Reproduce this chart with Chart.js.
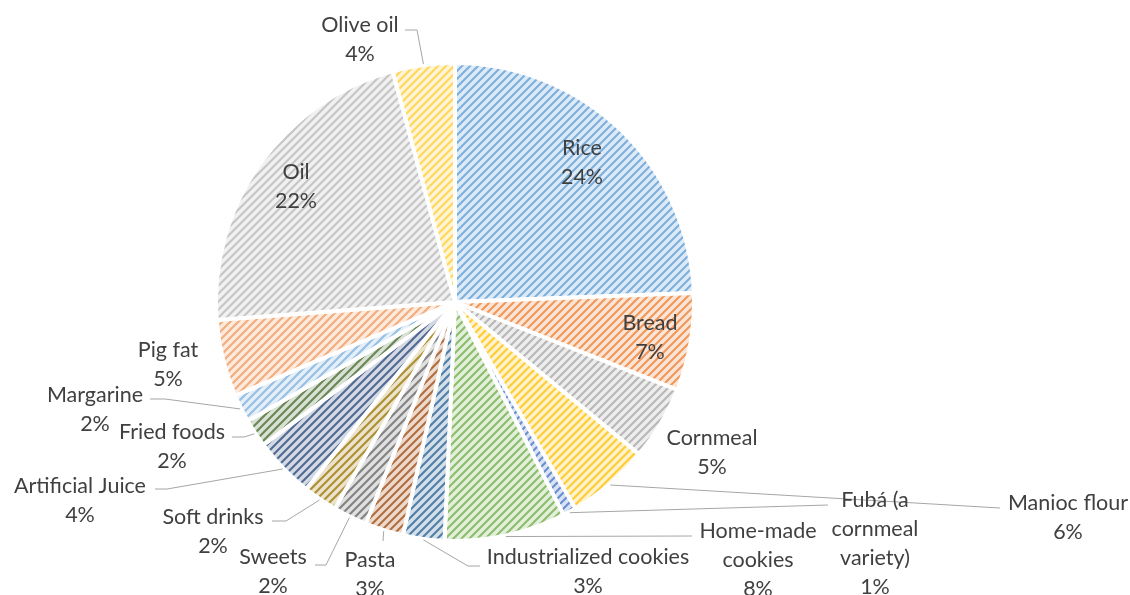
<!DOCTYPE html>
<html><head><meta charset="utf-8">
<script src="https://cdn.jsdelivr.net/npm/chart.js@4"></script>
<style>html,body{margin:0;padding:0;background:#fff}</style>
</head><body>
<canvas id="c" width="1130" height="595"></canvas>
<script>
// ---- data ----
const categories = ["Rice","Bread","Cornmeal","Manioc flour","Fubá (a cornmeal variety)","Home-made cookies","Industrialized cookies","Pasta","Sweets","Soft drinks","Artificial Juice","Fried foods","Margarine","Pig fat","Oil","Olive oil"];
const values = [24.4,6.6,5.0,5.6,0.9,8.2,2.8,2.6,2.3,2.3,4.1,1.9,1.9,5.2,22.0,4.2];
const baseColors = ["#5B9BD5","#ED7D31","#A5A5A5","#FFC000","#4472C4","#70AD47","#255E91","#9E480E","#636363","#997300","#264478","#43682B","#7CAFDD","#F1975A","#B7B7B7","#FFCD33"];

// ---- label layout (offsets from pie centre, px) ----
const labelLayout = [
  {dx:127, dy:-154},
  {dx:195, dy:21},
  {dx:257, dy:136},
  {dx:613, dy:201, leader:[[545,206]]},
  {dx:420, dy:198, wrap:110, leader:[[373,203]]},
  {dx:303, dy:229, wrap:130, leader:[[237,234]]},
  {dx:133, dy:255, leader:[[13,264],[25,264]]},
  {dx:-85, dy:258, leader:[[-72,239]]},
  {dx:-182, dy:255, leader:[[-129,263],[-140,263]]},
  {dx:-242, dy:215, leader:[[-169,219],[-183,219]]},
  {dx:-375, dy:184, leader:[[-288,187],[-300,187]]},
  {dx:-283, dy:130, leader:[[-211,135],[-223,135]]},
  {dx:-360, dy:93, leader:[[-290,97],[-305,97]]},
  {dx:-287, dy:48},
  {dx:-159, dy:-130},
  {dx:-95, dy:-277, leader:[[-38,-272],[-50,-272]]}
];

function mix(hex, t){
  const n = parseInt(hex.slice(1),16);
  const r=(n>>16)&255, g=(n>>8)&255, b=n&255;
  const f = v => Math.round(255 + (v-255)*t);
  return `rgb(${f(r)},${f(g)},${f(b)})`;
}
function makePattern(ctx, hex){
  const s = 8;
  const c = document.createElement('canvas'); c.width = s; c.height = s;
  const g = c.getContext('2d');
  g.fillStyle = mix(hex, 0.2); g.fillRect(0,0,s,s);
  g.strokeStyle = mix(hex, 0.8); g.lineWidth = 2.1;
  g.beginPath();
  g.moveTo(0,s); g.lineTo(s,0);
  g.moveTo(-2,2); g.lineTo(2,-2);
  g.moveTo(s-2,s+2); g.lineTo(s+2,s-2);
  g.stroke();
  return ctx.createPattern(c,'repeat');
}

const canvas = document.getElementById('c');
const ctx = canvas.getContext('2d');
const patterns = baseColors.map(h => makePattern(ctx, h));

const FONT = '21.5px Lato';
const LINE_H = 29;

function wrapText(ctx, text, maxW){
  if(!maxW) return [text];
  const words = text.split(' '); const lines = []; let cur = '';
  words.forEach(w => {
    const t = cur ? cur + ' ' + w : w;
    if (cur && ctx.measureText(t).width > maxW) { lines.push(cur); cur = w; } else cur = t;
  });
  if (cur) lines.push(cur);
  return lines;
}

const labelPlugin = {
  id: 'sliceLabels',
  afterDatasetsDraw(chart){
    const c = chart.ctx;
    const meta = chart.getDatasetMeta(0);
    const total = values.reduce((a,b)=>a+b,0);
    c.save();
    c.font = FONT; c.fillStyle = '#404040'; c.textAlign = 'center'; c.textBaseline = 'middle';
    c.strokeStyle = '#A6A6A6'; c.lineWidth = 1;
    meta.data.forEach((arc, i) => {
      const p = arc.getProps(['x','y','startAngle','endAngle','outerRadius'], true);
      const L = labelLayout[i];
      const mid = (p.startAngle + p.endAngle)/2;
      if (L.leader){
        c.beginPath();
        c.moveTo(p.x + (p.outerRadius+1)*Math.cos(mid), p.y + (p.outerRadius+1)*Math.sin(mid));
        L.leader.forEach(q => c.lineTo(p.x + q[0], p.y + q[1]));
        c.stroke();
      }
      const lines = wrapText(c, categories[i], L.wrap).concat([Math.round(values[i]/total*100) + '%']);
      lines.forEach((t,k) => c.fillText(t, p.x + L.dx, p.y + L.dy + k*LINE_H));
    });
    c.restore();
  }
};

new Chart(ctx, {
  type: 'pie',
  data: { labels: categories, datasets: [{ data: values, backgroundColor: patterns, borderColor: '#ffffff', borderWidth: 4 }] },
  options: {
    responsive: false, animation: false, devicePixelRatio: 1,
    radius: 239,
    layout: { padding: { left: 0, right: 220, top: 63, bottom: 54 } },
    plugins: { legend: { display: false }, tooltip: { enabled: false } }
  },
  plugins: [labelPlugin]
});
</script>
</body></html>
